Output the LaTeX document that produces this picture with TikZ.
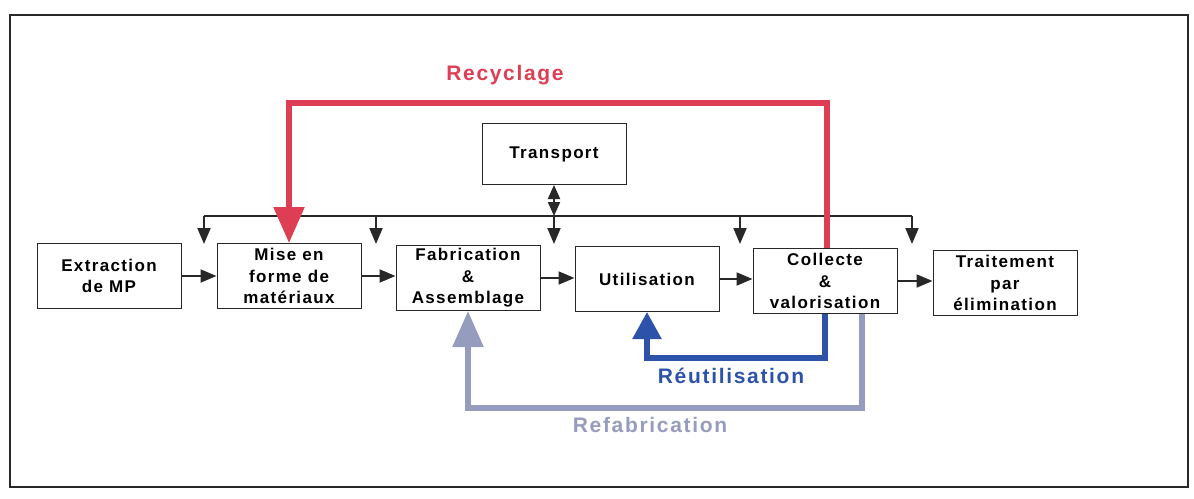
\documentclass[tikz,border=0pt]{standalone}
\usepackage{fontspec}
\setmainfont{Liberation Sans}[LetterSpace=8]
\usetikzlibrary{arrows.meta,positioning}

\definecolor{rouge}{RGB}{222,62,84}
\definecolor{bleu}{RGB}{44,82,170}
\definecolor{gris}{RGB}{150,156,190}
\definecolor{trait}{RGB}{40,40,40}

\begin{document}
\begin{tikzpicture}[x=1pt,y=-1pt,
        etape/.style={draw=trait, line width=1pt, minimum width=144pt, minimum height=65pt,
                inner sep=0pt, align=center, font=\fontsize{17}{21.5}\selectfont\bfseries},
        fleche/.style={draw=trait, line width=2pt, -{Triangle[length=16pt,width=13pt]}},
        boucle/.style={line width=5.5pt},
        titre/.style={font=\fontsize{21}{24}\selectfont\bfseries}]
        \useasboundingbox (0,0) rectangle (1194,498);
        
        %Cadre
        \draw [trait, line width=1.5pt] (10,15) rectangle (1188,487);
        
        %Etapes du cycle
        \node [etape] (extraction) at (109,276) {Extraction\\de MP};
        \node [etape] (miseforme) at (289,276) {Mise en\\forme de\\mat\'eriaux};
        \node [etape] (fabrication) at (468,278) {Fabrication\\\&\\Assemblage};
        \node [etape] (utilisation) at (647,279) {Utilisation};
        \node [etape] (collecte) at (825,281) {Collecte\\\&\\valorisation};
        \node [etape] (traitement) at (1005,283) {Traitement\\par\\\'elimination};
        
        %Transport
        \node [etape, minimum height=61pt] (transport) at (554,154) {Transport};
        
        %Fleches entre etapes
        \draw [fleche] (extraction) -- (extraction -| miseforme.west);
        \draw [fleche] (miseforme) -- (miseforme -| fabrication.west);
        \draw [fleche] (fabrication) -- (fabrication -| utilisation.west);
        \draw [fleche] (utilisation) -- (utilisation -| collecte.west);
        \draw [fleche] (collecte) -- (collecte -| traitement.west);
        
        %Ligne de transport
        \coordinate (busgauche) at (204,216);
        \coordinate (busdroite) at (912,216);
        \draw [trait, line width=2pt] (busgauche) -- (busdroite);
        \foreach \x [count=\i] in {204,376,554,740,912} {
                \coordinate (haut\i) at (\x,216);
                \coordinate (bas\i) at (\x,244);
                \draw [fleche] (haut\i) -- (bas\i);
        }
        \draw [trait, line width=2pt, {Triangle[length=14pt,width=12pt]}-{Triangle[length=14pt,width=12pt]}] (transport.south -| haut3) -- (haut3);
        
        %Recyclage
        \coordinate (coinrecyclage) at (827,103);
        \draw [boucle, rouge, -{Triangle[length=36pt,width=30pt]}] (collecte.north -| coinrecyclage) -- (coinrecyclage) -| (miseforme.north);
        
        %Reutilisation
        \draw [boucle, bleu, -{Triangle[length=27pt,width=28pt]}] (collecte.south) -- ++(0,44) -| (utilisation.south);
        
        %Refabrication
        \draw [boucle, gris, -{Triangle[length=36pt,width=30pt]}] ([xshift=37pt]collecte.south) -- ++(0,94) -| (fabrication.south);
        
        % Text Node
        \node [titre, rouge] (recyclage) at (505,75) {Recyclage};
        % Text Node
        \node [titre, bleu] (reutilisation) at (731,376) {R\'eutilisation};
        % Text Node
        \node [titre, gris] (refabrication) at (650,425) {Refabrication};
\end{tikzpicture}
\end{document}
